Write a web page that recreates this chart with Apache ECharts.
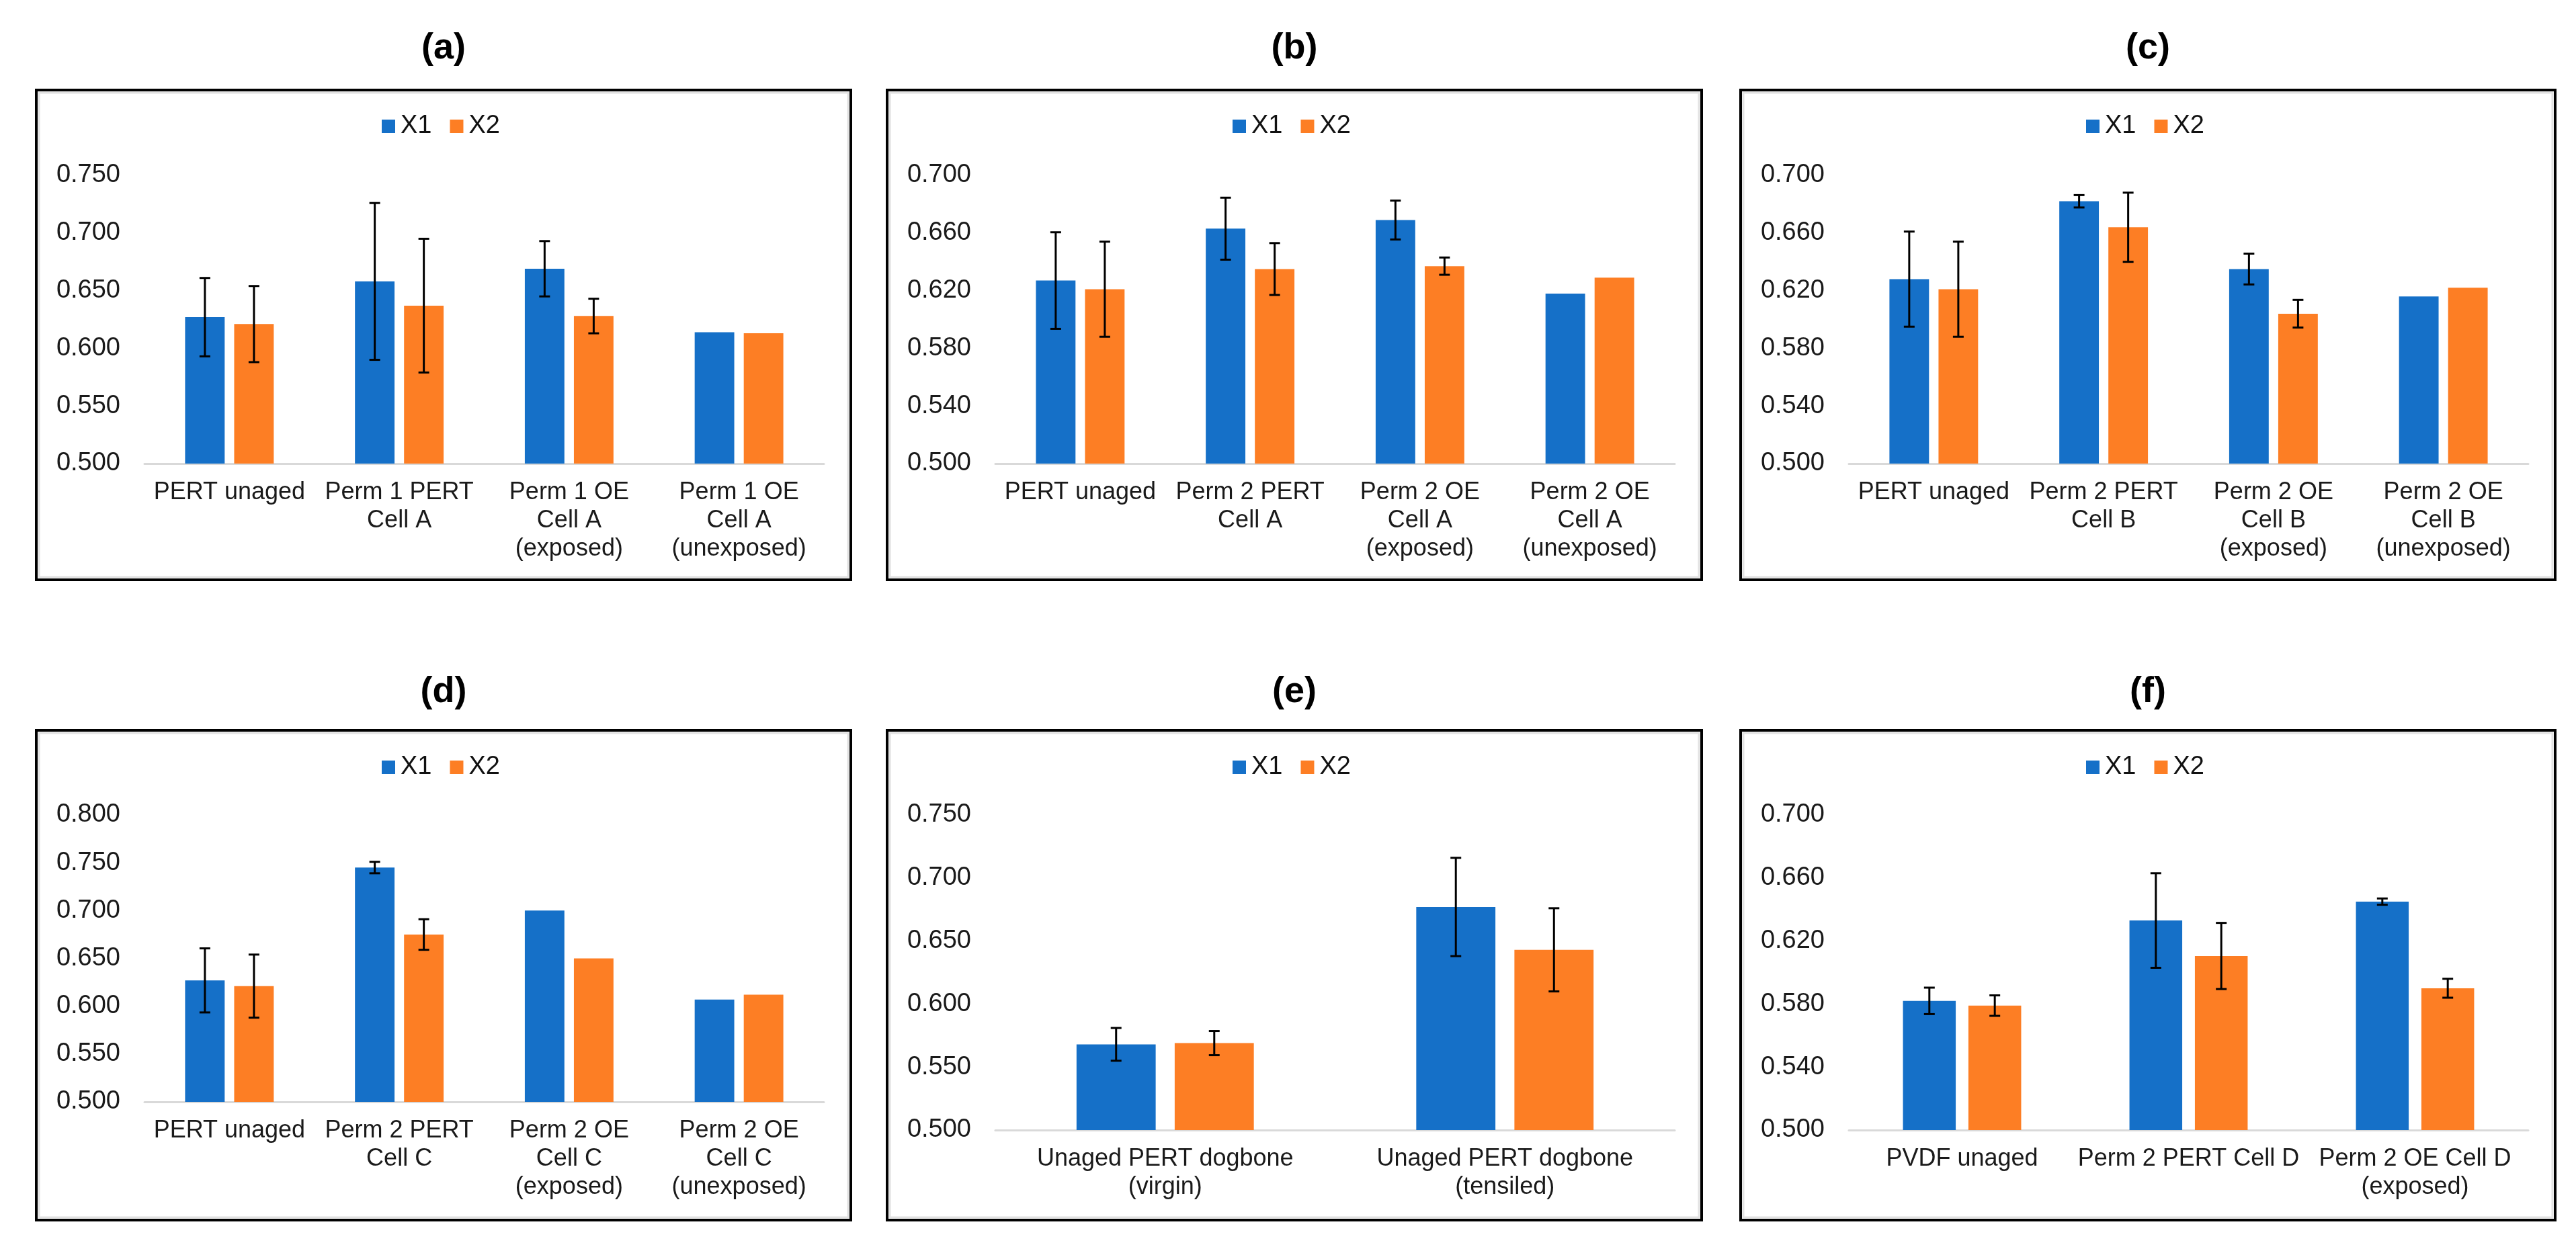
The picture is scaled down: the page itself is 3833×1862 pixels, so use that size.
<!DOCTYPE html>
<html>
<head>
<meta charset="utf-8">
<script src="https://cdn.jsdelivr.net/npm/echarts@6/dist/echarts.min.js"></script>
<style>
html,body{margin:0;padding:0;background:#fff;overflow:hidden;}
#chart{width:3833px;height:1862px;}
</style>
</head>
<body>
<div id="chart"></div>
<script>
// ---------------- DATA ----------------
const seriesNames = ['X1', 'X2'];
const panelTitles = ['(a)', '(b)', '(c)', '(d)', '(e)', '(f)'];

const catsA = ['PERT unaged', 'Perm 1 PERT\nCell A', 'Perm 1 OE\nCell A\n(exposed)', 'Perm 1 OE\nCell A\n(unexposed)'];
const x1A = [0.627, 0.658, 0.669, 0.614];
const x2A = [0.621, 0.637, 0.628, 0.613];
const err1A = [0.034, 0.068, 0.024, null];
const err2A = [0.033, 0.058, 0.015, null];

const catsB = ['PERT unaged', 'Perm 2 PERT\nCell A', 'Perm 2 OE\nCell A\n(exposed)', 'Perm 2 OE\nCell A\n(unexposed)'];
const x1B = [0.627, 0.663, 0.669, 0.618];
const x2B = [0.621, 0.635, 0.637, 0.629];
const err1B = [0.0335, 0.0215, 0.0135, null];
const err2B = [0.033, 0.018, 0.006, null];

const catsC = ['PERT unaged', 'Perm 2 PERT\nCell B', 'Perm 2 OE\nCell B\n(exposed)', 'Perm 2 OE\nCell B\n(unexposed)'];
const x1C = [0.628, 0.682, 0.635, 0.616];
const x2C = [0.621, 0.664, 0.604, 0.622];
const err1C = [0.033, 0.0043, 0.0107, null];
const err2C = [0.033, 0.024, 0.0096, null];

const catsD = ['PERT unaged', 'Perm 2 PERT\nCell C', 'Perm 2 OE\nCell C\n(exposed)', 'Perm 2 OE\nCell C\n(unexposed)'];
const x1D = [0.627, 0.745, 0.700, 0.607];
const x2D = [0.621, 0.675, 0.650, 0.612];
const err1D = [0.0335, 0.006, null, null];
const err2D = [0.033, 0.016, null, null];

const catsE = ['Unaged PERT dogbone\n(virgin)', 'Unaged PERT dogbone\n(tensiled)'];
const x1E = [0.568, 0.677];
const x2E = [0.569, 0.643];
const err1E = [0.013, 0.039];
const err2E = [0.0096, 0.033];

const catsF = ['PVDF unaged', 'Perm 2 PERT Cell D', 'Perm 2 OE Cell D\n(exposed)'];
const x1F = [0.582, 0.633, 0.645];
const x2F = [0.579, 0.6105, 0.590];
const err1F = [0.0084, 0.030, 0.002];
const err2F = [0.0065, 0.021, 0.006];

// y axis ranges (tick labels)
const yMins = [0.500, 0.500, 0.500, 0.500, 0.500, 0.500];
const yMaxs = [0.750, 0.700, 0.700, 0.800, 0.750, 0.700];
const ySteps = [0.05, 0.04, 0.04, 0.05, 0.05, 0.04];

// ---------------- LAYOUT / STYLE ----------------
const panels = [
  {cats: catsA, x1: x1A, x2: x2A, e1: err1A, e2: err2A},
  {cats: catsB, x1: x1B, x2: x2B, e1: err1B, e2: err2B},
  {cats: catsC, x1: x1C, x2: x2C, e1: err1C, e2: err2C},
  {cats: catsD, x1: x1D, x2: x2D, e1: err1D, e2: err2D},
  {cats: catsE, x1: x1E, x2: x2E, e1: err1E, e2: err2E},
  {cats: catsF, x1: x1F, x2: x2F, e1: err1F, e2: err2F}
];
const colLefts = [54, 1320, 2590];
const rowTops = [134, 1087];
const titleYs = [72, 1030];
const legendYs = [188, 1142];
const boxW = 1212, boxH = 729;
const gridTops = [261, 261, 261, 1213, 1213, 1213];
const gridHeights = [429, 429, 429, 427, 469, 469];
const BLUE = '#1570C8', ORANGE = '#FD7E24';
const FONT = '"Liberation Sans", Arial, Helvetica, sans-serif';
const BW = 0.233, BG = 0.24;

const chart = echarts.init(document.getElementById('chart'), null, {renderer: 'canvas'});

const grid = [], xAxis = [], yAxis = [], series = [], legend = [], graphic = [];

panels.forEach((p, i) => {
  const col = i % 3, row = Math.floor(i / 3);
  const bx = colLefts[col], by = rowTops[row];
  graphic.push({type: 'rect', shape: {x: bx + 4, y: by + 4, width: boxW - 8, height: boxH - 8},
    style: {fill: 'none', stroke: '#E2E2E2', lineWidth: 3}, silent: true});
  graphic.push({type: 'rect', shape: {x: bx, y: by, width: boxW, height: boxH},
    style: {fill: 'none', stroke: '#000', lineWidth: 4}, silent: true});
  graphic.push({type: 'text', x: bx + boxW / 2, y: titleYs[row],
    style: {text: panelTitles[i], fontSize: 54, fontWeight: 'bold', fontFamily: FONT, fill: '#000',
      textAlign: 'center', textVerticalAlign: 'middle'}, silent: true});

  grid.push({left: bx + 161, top: gridTops[i], width: boxW - 161 - 40, height: gridHeights[i]});
  legend.push({
    data: seriesNames, left: bx + boxW / 2 - 92, top: legendYs[row] - 20, padding: 0,
    itemWidth: 20, itemHeight: 20, itemGap: 27, icon: 'rect', selectedMode: false,
    textStyle: {fontSize: 38, fontFamily: FONT, color: '#111', lineHeight: 40, padding: [0, 0, 0, 3]}
  });
  xAxis.push({
    type: 'category', gridIndex: i, data: p.cats,
    axisLine: {show: true, lineStyle: {color: '#D9D9D9', width: 3}},
    axisTick: {show: false},
    axisLabel: {interval: 0, fontSize: 36, lineHeight: 42, margin: 22, color: '#1a1a1a', fontFamily: FONT}
  });
  yAxis.push({
    type: 'value', gridIndex: i, min: yMins[i], max: yMaxs[i], interval: ySteps[i],
    axisLine: {show: false}, axisTick: {show: false}, splitLine: {show: false},
    axisLabel: {fontSize: 38, margin: 36, color: '#1a1a1a', fontFamily: FONT,
      formatter: v => v.toFixed(3)}
  });
  series.push({name: 'X1', type: 'bar', xAxisIndex: i, yAxisIndex: i, data: p.x1,
    barWidth: (BW * 100) + '%', barGap: (BG * 100) + '%', itemStyle: {color: BLUE}, silent: true});
  series.push({name: 'X2', type: 'bar', xAxisIndex: i, yAxisIndex: i, data: p.x2,
    barWidth: (BW * 100) + '%', barGap: (BG * 100) + '%', itemStyle: {color: ORANGE}, silent: true});

  const errData = [];
  p.x1.forEach((v, k) => { if (p.e1[k] != null) errData.push([k, v, p.e1[k], 0]); });
  p.x2.forEach((v, k) => { if (p.e2[k] != null) errData.push([k, v, p.e2[k], 1]); });
  series.push({
    type: 'custom', xAxisIndex: i, yAxisIndex: i, data: errData, z: 10, silent: true,
    encode: {x: 0, y: 1},
    renderItem: (params, api) => {
      const cat = api.value(0), val = api.value(1), err = api.value(2), s = api.value(3);
      const band = api.size([1, 0])[0];
      const bw = band * BW, gap = bw * BG;
      const off = (s === 0 ? -1 : 1) * (bw + gap) / 2;
      const c = api.coord([cat, val]);
      const x = c[0] + off;
      const yt = api.coord([cat, val + err])[1];
      const yb = api.coord([cat, val - err])[1];
      const cap = 8;
      const st = {stroke: '#000', lineWidth: 3};
      return {type: 'group', children: [
        {type: 'line', shape: {x1: x, y1: yt, x2: x, y2: yb}, style: st},
        {type: 'line', shape: {x1: x - cap, y1: yt, x2: x + cap, y2: yt}, style: st},
        {type: 'line', shape: {x1: x - cap, y1: yb, x2: x + cap, y2: yb}, style: st}
      ]};
    }
  });
});

chart.setOption({
  animation: false,
  backgroundColor: '#fff',
  color: [BLUE, ORANGE],
  grid, xAxis, yAxis, series, legend, graphic
});
</script>
</body>
</html>
